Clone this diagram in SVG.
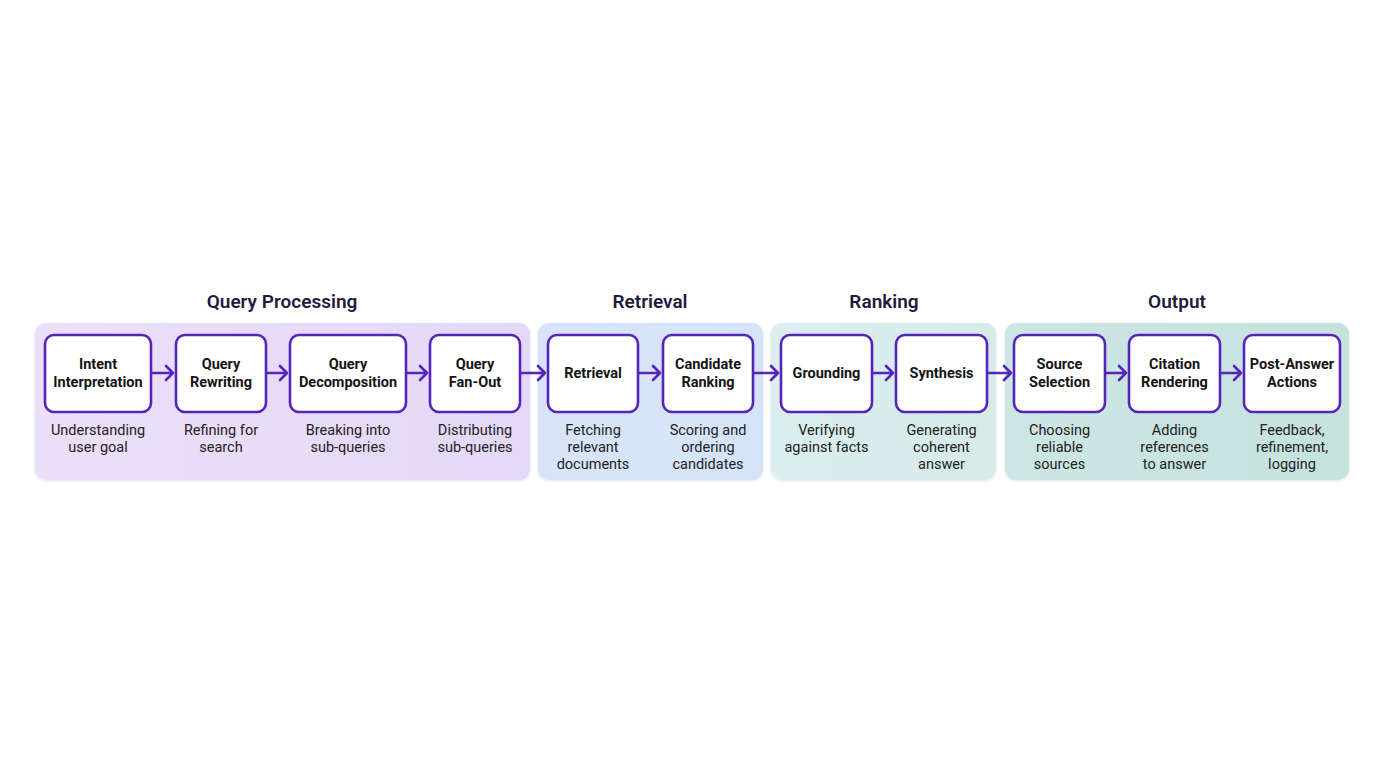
<svg xmlns="http://www.w3.org/2000/svg" width="1376" height="768" viewBox="0 0 1376 768">
<defs>
<linearGradient id="gQP" x1="0" y1="0" x2="1" y2="0"><stop offset="0" stop-color="#ebdff9"/><stop offset="1" stop-color="#e4d8f8"/></linearGradient>
<linearGradient id="gRT" x1="0" y1="0" x2="1" y2="0"><stop offset="0" stop-color="#d9e4fa"/><stop offset="1" stop-color="#d5e3f9"/></linearGradient>
<linearGradient id="gRK" x1="0" y1="0" x2="1" y2="0"><stop offset="0" stop-color="#dbeef0"/><stop offset="1" stop-color="#d6ebe8"/></linearGradient>
<linearGradient id="gOT" x1="0" y1="0" x2="1" y2="0"><stop offset="0" stop-color="#cce6e3"/><stop offset="1" stop-color="#c6e2dd"/></linearGradient>
<filter id="sh" x="-10%" y="-10%" width="120%" height="130%"><feDropShadow dx="0" dy="1" stdDeviation="1.5" flood-color="#3b2a6b" flood-opacity="0.12"/></filter>
</defs>
<style>
.title{font-family:Roboto,"Liberation Sans",sans-serif;font-size:19px;font-weight:600;fill:#1e1b3b;text-anchor:middle}
.node rect{fill:#ffffff;stroke:#5524b8;stroke-width:2.6}
.nt{font-family:Roboto,"Liberation Sans",sans-serif;font-size:14.5px;font-weight:700;fill:#141414;text-anchor:middle}
.dt{font-family:Roboto,"Liberation Sans",sans-serif;font-size:14.5px;font-weight:400;fill:#222222;text-anchor:middle}
.conn path{fill:none;stroke:#5524b8;stroke-width:2.6;stroke-linecap:round;stroke-linejoin:round}
</style>
<rect width="1376" height="768" fill="#ffffff"/>
<g id="panels">
<rect x="35" y="323" width="495" height="157" rx="11" fill="url(#gQP)" filter="url(#sh)"/>
<rect x="538" y="323" width="225" height="157" rx="11" fill="url(#gRT)" filter="url(#sh)"/>
<rect x="771" y="323" width="225" height="157" rx="11" fill="url(#gRK)" filter="url(#sh)"/>
<rect x="1005" y="323" width="344" height="157" rx="11" fill="url(#gOT)" filter="url(#sh)"/>
</g>
<g id="titles">
<text class="title" x="282" y="308">Query Processing</text>
<text class="title" x="650" y="308">Retrieval</text>
<text class="title" x="884" y="308">Ranking</text>
<text class="title" x="1177" y="308">Output</text>
</g>
<g id="n1" class="node"><rect x="45" y="335" width="106" height="77" rx="9"/><text class="nt" x="98" y="369">Intent</text><text class="nt" x="98" y="387">Interpretation</text><text class="dt" x="98" y="435">Understanding</text><text class="dt" x="98" y="452">user goal</text></g>
<g id="n2" class="node"><rect x="176" y="335" width="90" height="77" rx="9"/><text class="nt" x="221" y="369">Query</text><text class="nt" x="221" y="387">Rewriting</text><text class="dt" x="221" y="435">Refining for</text><text class="dt" x="221" y="452">search</text></g>
<g id="n3" class="node"><rect x="290" y="335" width="116" height="77" rx="9"/><text class="nt" x="348" y="369">Query</text><text class="nt" x="348" y="387">Decomposition</text><text class="dt" x="348" y="435">Breaking into</text><text class="dt" x="348" y="452">sub-queries</text></g>
<g id="n4" class="node"><rect x="430" y="335" width="90" height="77" rx="9"/><text class="nt" x="475" y="369">Query</text><text class="nt" x="475" y="387">Fan-Out</text><text class="dt" x="475" y="435">Distributing</text><text class="dt" x="475" y="452">sub-queries</text></g>
<g id="n5" class="node"><rect x="548" y="335" width="90" height="77" rx="9"/><text class="nt" x="593" y="378">Retrieval</text><text class="dt" x="593" y="435">Fetching</text><text class="dt" x="593" y="452">relevant</text><text class="dt" x="593" y="469">documents</text></g>
<g id="n6" class="node"><rect x="663" y="335" width="90" height="77" rx="9"/><text class="nt" x="708" y="369">Candidate</text><text class="nt" x="708" y="387">Ranking</text><text class="dt" x="708" y="435">Scoring and</text><text class="dt" x="708" y="452">ordering</text><text class="dt" x="708" y="469">candidates</text></g>
<g id="n7" class="node"><rect x="781" y="335" width="91" height="77" rx="9"/><text class="nt" x="826.5" y="378">Grounding</text><text class="dt" x="826.5" y="435">Verifying</text><text class="dt" x="826.5" y="452">against facts</text></g>
<g id="n8" class="node"><rect x="896" y="335" width="91" height="77" rx="9"/><text class="nt" x="941.5" y="378">Synthesis</text><text class="dt" x="941.5" y="435">Generating</text><text class="dt" x="941.5" y="452">coherent</text><text class="dt" x="941.5" y="469">answer</text></g>
<g id="n9" class="node"><rect x="1014" y="335" width="91" height="77" rx="9"/><text class="nt" x="1059.5" y="369">Source</text><text class="nt" x="1059.5" y="387">Selection</text><text class="dt" x="1059.5" y="435">Choosing</text><text class="dt" x="1059.5" y="452">reliable</text><text class="dt" x="1059.5" y="469">sources</text></g>
<g id="n10" class="node"><rect x="1129" y="335" width="91" height="77" rx="9"/><text class="nt" x="1174.5" y="369">Citation</text><text class="nt" x="1174.5" y="387">Rendering</text><text class="dt" x="1174.5" y="435">Adding</text><text class="dt" x="1174.5" y="452">references</text><text class="dt" x="1174.5" y="469">to answer</text></g>
<g id="n11" class="node"><rect x="1244" y="335" width="96" height="77" rx="9"/><text class="nt" x="1292" y="369">Post-Answer</text><text class="nt" x="1292" y="387">Actions</text><text class="dt" x="1292" y="435">Feedback,</text><text class="dt" x="1292" y="452">refinement,</text><text class="dt" x="1292" y="469">logging</text></g>
<g id="connectors" class="conn">
<path d="M152 373H173M166 366L173 373L166 380"/>
<path d="M267 373H287M280 366L287 373L280 380"/>
<path d="M407 373H427M420 366L427 373L420 380"/>
<path d="M521 373H545M538 366L545 373L538 380"/>
<path d="M639 373H660M653 366L660 373L653 380"/>
<path d="M754 373H778M771 366L778 373L771 380"/>
<path d="M873 373H893M886 366L893 373L886 380"/>
<path d="M988 373H1011M1004 366L1011 373L1004 380"/>
<path d="M1106 373H1126M1119 366L1126 373L1119 380"/>
<path d="M1221 373H1241M1234 366L1241 373L1234 380"/>
</g>
</svg>
